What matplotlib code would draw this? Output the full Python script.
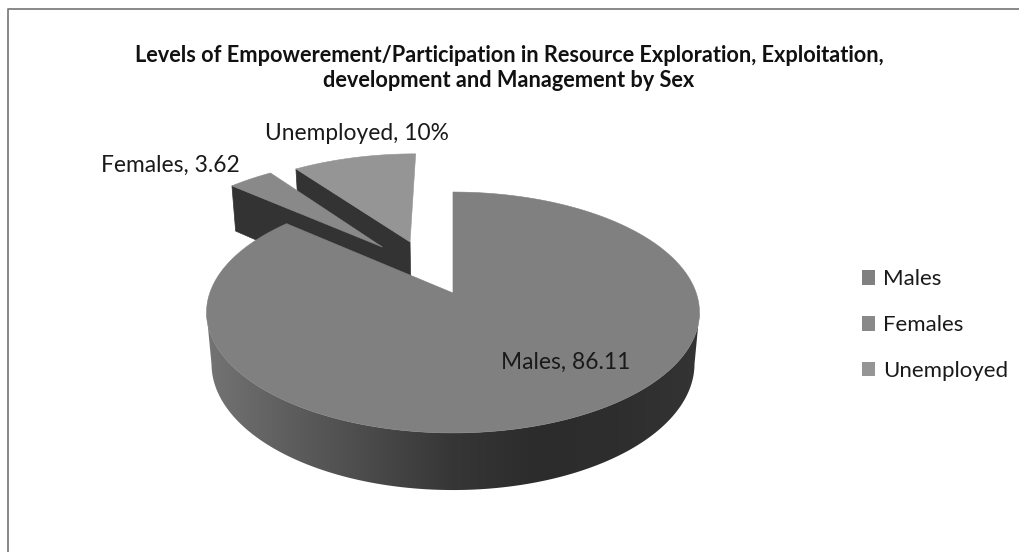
import numpy as np
import matplotlib
matplotlib.use('Agg')
import matplotlib.pyplot as plt
from matplotlib.patches import Patch, Polygon
from matplotlib.colors import LinearSegmentedColormap

# ── Data ─────────────────────────────────────────────────────────────────────
categories = ['Males', 'Females', 'Unemployed']
values = [86.11, 3.62, 10.0]
data_labels = ['Males, 86.11', 'Females, 3.62', 'Unemployed, 10%']
title = ('Levels of Empowerement/Participation in Resource Exploration, Exploitation,\n'
         'development and Management by Sex')

# ── Style ────────────────────────────────────────────────────────────────────
top_colors = ['#808080', '#898989', '#959595']
side_dark = '#333333'
explode_xy = [(0.0, 0.0), (-0.31, 0.418), (-0.19, 0.468)]   # slice shift on the pie plane
label_pos = [(566, 362), (170, 165), (357, 134)]

plt.rcParams['font.family'] = ['Lato', 'DejaVu Sans']

# pie camera, fitted to the reference (pixels)
CX, CY = 453.0, 293.0
A, B = 117.3, 243.2     # plane scale
K = 0.1618              # perspective along depth of the plane
CH = 51.8               # extrusion height on screen
MH = 0.02               # perspective shrink of the bottom face


def project(x, y, bottom=False):
    w = 1 + K * y + (MH if bottom else 0)
    sy = A * y - (CH if bottom else 0)
    return CX + B * x / w, CY - sy / w


def rim(a0, a1, off, bottom=False, n=200):
    # clock angles in degrees, 0 at 12 o'clock, clockwise
    t = np.radians(np.linspace(a0, a1, n))
    return project(off[0] + np.sin(t), off[1] + np.cos(t), bottom)


fig = plt.figure(figsize=(10.19, 5.52), dpi=100)
ax = fig.add_axes([0, 0, 1, 1])
ax.set_xlim(0, 1019)
ax.set_ylim(552, 0)
ax.axis('off')

shares = np.array(values) / np.sum(values) * 360
ends = np.cumsum(shares)
starts = ends - shares

# back slices first, so the nearer ones cover them
for i in [2, 1]:
    off = explode_xy[i]
    a0, a1 = starts[i], ends[i]
    r = np.radians(a0)
    tx, ty = project(off[0] + np.array([0, np.sin(r)]), off[1] + np.array([0, np.cos(r)]))
    bx, by = project(off[0] + np.array([0, np.sin(r)]), off[1] + np.array([0, np.cos(r)]), True)
    ax.add_patch(Polygon(np.c_[[tx[0], tx[1], bx[1], bx[0]], [ty[0], ty[1], by[1], by[0]]],
                         fc=side_dark, ec=side_dark, lw=0.5, zorder=2 + (2 - i) * 2))
    ax_, ay_ = project(off[0], off[1])
    rx, ry = rim(a0, a1, off)
    ax.add_patch(Polygon(np.c_[np.r_[ax_, rx], np.r_[ay_, ry]],
                         fc=top_colors[i], ec=top_colors[i], lw=0.4, zorder=3 + (2 - i) * 2))

# Males: outer wall with left-to-right shading, then its top face
off = explode_xy[0]
tx, ty = rim(99.3, 260.7, off)
bx, by = rim(99.3, 260.7, off, True)
wall = Polygon(np.c_[np.r_[tx, bx[::-1]], np.r_[ty, by[::-1]]], fc='none', ec='none')
ax.add_patch(wall)
wall_cmap = LinearSegmentedColormap.from_list(
    'wall', ['#747474', '#5e5e5e', '#4a4a4a', '#363636', '#2c2c2c', '#2e2e2e', '#343434'])
im = ax.imshow(np.linspace(0, 1, 256)[None, :], cmap=wall_cmap, aspect='auto',
               extent=[205, 702, 500, 290], zorder=8)
im.set_clip_path(wall)
ax.set_xlim(0, 1019)
ax.set_ylim(552, 0)

ex, ey = project(0.0, 0.0)
sx, sy = rim(0, 0.01, off, n=2)
ax.plot([sx[0], ex], [sy[0], ey], color='#555555', lw=0.8, zorder=8)
rx, ry = rim(starts[0], ends[0], off, n=500)
ax.add_patch(Polygon(np.c_[np.r_[ex, rx], np.r_[ey, ry]],
                     fc=top_colors[0], ec=top_colors[0], lw=0.4, zorder=9))

# ── Text ─────────────────────────────────────────────────────────────────────
ax.text(509, 68, title, ha='center', va='center', fontsize=15.7, fontweight='bold',
        color='#111111', linespacing=1.29, zorder=12)
for lab, (lx, ly) in zip(data_labels, label_pos):
    ax.text(lx, ly, lab, ha='center', va='center', fontsize=16.4, color='#1a1a1a', zorder=12)

handles = [Patch(fc=c, ec='none') for c in top_colors]
ax.legend(handles, categories, loc='center left', bbox_to_anchor=(862 / 1019, 1 - 325 / 552),
          frameon=False, fontsize=16, handlelength=0.6, handleheight=0.65, borderpad=0,
          borderaxespad=0, handletextpad=0.36, labelspacing=1.16, labelcolor='#1a1a1a')

# chart frame, cut by the image on the right and at the bottom
ax.plot([8.5, 8.5, 1019], [552, 8.5, 8.5], color='#7f7f7f', lw=1.3, zorder=1)

fig.savefig('out.png', dpi=100)
